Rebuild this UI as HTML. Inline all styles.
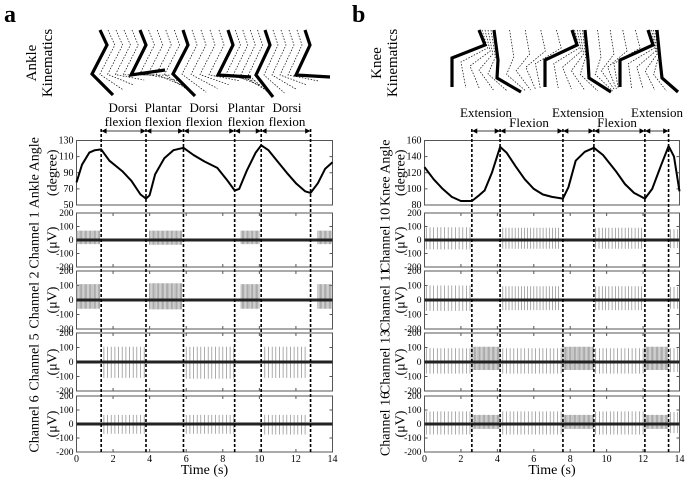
<!DOCTYPE html>
<html><head><meta charset="utf-8">
<style>
html,body{margin:0;padding:0;background:#fff;}
svg{display:block;font-family:"Liberation Serif",serif;}
</style></head>
<body>
<svg id="fig" width="685" height="478" viewBox="0 0 685 478" xmlns="http://www.w3.org/2000/svg">
<text x="4" y="22" font-size="24" font-weight="bold">a</text>
<text x="352" y="22" font-size="24" font-weight="bold">b</text>
<g id="root"></g>
</svg>
<script>
// ---- data ----
const ankleT = [0,0.3,0.7,1.0,1.35,1.8,2.5,3.0,3.5,3.8,4.0,4.3,4.8,5.3,5.85,6.4,7.0,7.7,8.2,8.65,8.9,9.3,9.8,10.1,10.5,11,11.5,12,12.5,12.8,13.2,13.6,14];
const ankleV = [78,100,115,118,119,105,92,80,63,58,62,88,108,118,121,112,104,96,82,68,70,92,115,124,118,104,90,77,67,65,77,95,103];
const kneeT = [0,0.5,1,1.5,2,2.6,3,3.3,3.7,4.15,4.5,5,5.5,6,6.5,7,7.6,7.9,8.3,8.8,9.3,9.8,10.5,11,11.5,12.1,12.5,13,13.4,13.7,14];
const kneeV = [127,112,100,90,85,85,92,98,120,152,145,128,112,100,93,90,88,102,135,146,151,142,122,106,95,88,100,130,153,140,97];
const ankleEvents = [1.35,3.8,5.85,8.65,10.1,12.8];
const kneeEvents = [2.6,4.15,7.6,9.3,12.1,13.4];
const ankleTicks = [50,70,90,110,130];
const kneeTicks = [80,100,120,140,160];
const emgTicks = [200,100,0,-100,-200];
const timeTicks = [0,2,4,6,8,10,12,14];
// bursts: [start, end, up amplitude, down amplitude, spike spacing]
const ch1Bursts = [[0,1.3,70,-30,0.07],[4.0,5.8,70,-35,0.07],[9.0,10.0,70,-30,0.07],[13.2,14,70,-30,0.07]];
const ch2Bursts = [[0,1.3,110,-60,0.07],[4.0,5.8,115,-65,0.07],[9.0,10.0,110,-60,0.07],[13.2,14,110,-60,0.07]];
const ch5Bursts = [[1.5,3.7,105,-110,0.2],[6.0,8.6,105,-115,0.2],[10.3,12.6,105,-110,0.2]];
const ch6Bursts = [[1.5,3.7,65,-70,0.2],[6.0,8.6,65,-70,0.2],[10.3,12.6,65,-75,0.2]];
const ch10Bursts = [[0.1,2.5,95,-70,0.2],[4.3,7.5,90,-65,0.17],[9.4,12.0,90,-65,0.18],[13.5,14,80,-60,0.2]];
const ch11Bursts = [[0.1,2.5,100,-75,0.2],[4.3,7.5,95,-70,0.17],[9.4,12.0,95,-70,0.18],[13.5,14,90,-60,0.2]];
const ch13Bursts = [[0.1,2.5,95,-80,0.2],[2.6,4.15,105,-55,0.07],[4.3,7.5,95,-80,0.2],[7.6,9.3,105,-55,0.07],[9.4,12.0,95,-80,0.2],[12.1,13.4,105,-55,0.07],[13.5,14,95,-70,0.2]];
const ch16Bursts = [[0.1,2.5,90,-75,0.2],[2.6,4.15,65,-35,0.07],[4.3,7.5,90,-75,0.2],[7.6,9.3,65,-35,0.07],[9.4,12.0,90,-75,0.2],[12.1,13.4,65,-35,0.07],[13.5,14,85,-65,0.2]];

const NS="http://www.w3.org/2000/svg";
const root=document.getElementById('root');
function el(tag,attrs,parent,txt){const e=document.createElementNS(NS,tag);for(const k in attrs)e.setAttribute(k,attrs[k]);if(txt!==undefined)e.textContent=txt;(parent||root).appendChild(e);return e;}

function buildSide(cfg){
  const g=el('g',{});
  
  
  const x0=cfg.x0,x1=cfg.x1;
  const X=t=>x0+(t/14)*(x1-x0);
  const o1=cfg.off1,o2=cfg.off2;
  const aTop=140.5,aBot=205;
  const [vmin,vmax]=cfg.range;
  const Ya=v=>aBot-(v-vmin)/(vmax-vmin)*(aBot-aTop);
  const ab=el('rect',{x:x0,y:aTop,width:x1-x0,height:aBot-aTop,fill:'none',stroke:'#555','stroke-width':1},g);
  
  
  cfg.aTicks.forEach(v=>{
    const t=el('text',{x:x0-3,y:Ya(v)+3,'font-size':10,'text-anchor':'end'},g,String(v));
    
    
    el('line',{x1:x0,x2:x0+3,y1:Ya(v),y2:Ya(v),stroke:'#555'},g);
    el('line',{x1:x1,x2:x1-3,y1:Ya(v),y2:Ya(v),stroke:'#555'},g);
  });
  let d='';
  cfg.T.forEach((t,i)=>{d+=(i?'L':'M')+X(t).toFixed(1)+','+Ya(cfg.V[i]).toFixed(1);});
  const ln=el('path',{d:d,fill:'none',stroke:'#000','stroke-width':2,'stroke-linejoin':'round'},g);
  
  
  const cy=(aTop+aBot)/2;
  const at=el('text',{x:0,y:0,'font-size':14,'text-anchor':'middle',transform:`translate(${x0-o1},${cy}) rotate(-90)`},g,cfg.angleTitle);
  
  
  const at2=el('text',{x:0,y:0,'font-size':14,'text-anchor':'middle',transform:`translate(${x0-o2},${cy}) rotate(-90)`},g,'(degree)');
  
  
  const tops=[213,271,333,396], bots=[267,329,391,452];
  cfg.channels.forEach((ch,i)=>{
    const top=tops[i],bot=bots[i];
    const Y=v=>bot-(v+200)/400*(bot-top);
    const fr=el('rect',{x:x0,y:top,width:x1-x0,height:bot-top,fill:'none',stroke:'#555','stroke-width':1},g);
    
    
    emgTicks.forEach(v=>{
      const t=el('text',{x:x0-3,y:Y(v)+3,'font-size':9.5,'text-anchor':'end'},g,String(v));
      
      
      el('line',{x1:x0,x2:x0+3,y1:Y(v),y2:Y(v),stroke:'#555'},g);
      el('line',{x1:x1,x2:x1-3,y1:Y(v),y2:Y(v),stroke:'#555'},g);
    });
    timeTicks.forEach(t=>{el('line',{x1:X(t),x2:X(t),y1:bot,y2:bot-3,stroke:'#555'},g);el('line',{x1:X(t),x2:X(t),y1:top,y2:top+3,stroke:'#555'},g);});
    let sd='';
    ch.bursts.forEach(b=>{
      for(let t=b[0];t<=b[1]+1e-6;t+=b[4]){sd+=`M${X(t).toFixed(1)},${Y(b[2]).toFixed(1)}V${Y(b[3]).toFixed(1)}`;}
    });
    const sp=el('path',{d:sd,stroke:'#888','stroke-width':0.7,fill:'none'},g);
    
    
    const bl=el('line',{x1:x0,x2:x1,y1:Y(0),y2:Y(0),stroke:'#222','stroke-width':3},g);
    
    
    const c=(top+bot)/2;
    const t1=el('text',{x:0,y:0,'font-size':14,'text-anchor':'middle',transform:`translate(${x0-o1},${c}) rotate(-90)`},g,ch.label);
    
    
    const t2=el('text',{x:0,y:0,'font-size':14,'text-anchor':'middle',transform:`translate(${x0-o2},${c}) rotate(-90)`},g,'(μV)');
    
    
  });
  timeTicks.forEach(t=>{
    const tl=el('text',{x:X(t),y:462,'font-size':10,'text-anchor':'middle'},g,String(t));
    
    
  });
  const xt=el('text',{x:(x0+x1)/2,y:474,'font-size':14,'text-anchor':'middle'},g,'Time (s)');
  
  
  cfg.events.forEach(e=>{
    const dl=el('line',{x1:X(e),x2:X(e),y1:129,y2:452,stroke:'#000','stroke-width':1.6,'stroke-dasharray':'3,2'},g);
    
    
  });
  for(let i=0;i<cfg.events.length-1;i++){
    const a=X(cfg.events[i])+1,b=X(cfg.events[i+1])-1,y=131;
    const ar=el('path',{d:`M${a},${y}H${b}M${a},${y}l4,-2v4zM${b},${y}l-4,-2v4z`,stroke:'#000','stroke-width':0.8,fill:'#000'},g);
    
    
  }
  cfg.phaseLabels.forEach(p=>{
    p.lines.forEach((s,k)=>{
      const t=el('text',{x:p.x,y:p.y+k*14,'font-size':13,'text-anchor':'middle'},g,s);
      
      
    });
  });
  cfg.kinTitle.forEach((s,k)=>{
    const t=el('text',{x:0,y:0,'font-size':15,'text-anchor':'middle',transform:`translate(${36+cfg.dx+k*16},63) rotate(-90)`},g,s);
    
    
  });
  const poses=cfg.poses;
  for(let i=0;i<poses.length;i++){
    const p=poses[i];
    const s=el('polyline',{points:p.map(q=>q.join(',')).join(' '),fill:'none',stroke:'#000','stroke-width':3.2,'stroke-linejoin':'miter'},g);
    
    
    if(i<poses.length-1){
      const n=poses[i+1];
      for(let k=1;k<=4;k++){
        const f=k/5;
        const pts=p.map((q,j)=>[q[0]+(n[j][0]-q[0])*f,q[1]+(n[j][1]-q[1])*f]);
        const dpl=el('polyline',{points:pts.map(q=>q[0].toFixed(1)+','+q[1].toFixed(1)).join(' '),fill:'none',stroke:'#000','stroke-width':0.7,'stroke-dasharray':'1.5,1.5'},g);
        
        
      }
    }
  }
}

buildSide({name:'ankle-side',x0:76.5,x1:332.5,off1:38,off2:20,range:[50,130],aTicks:ankleTicks,T:ankleT,V:ankleV,
  angleTitle:'Ankle Angle',events:ankleEvents,dx:0,kinTitle:['Ankle','Kinematics'],
  channels:[{label:'Channel 1',bursts:ch1Bursts},{label:'Channel 2',bursts:ch2Bursts},{label:'Channel 5',bursts:ch5Bursts},{label:'Channel 6',bursts:ch6Bursts}],
  phaseLabels:[{x:123,y:112,lines:['Dorsi','flexion']},{x:163,y:112,lines:['Plantar','flexion']},{x:204,y:112,lines:['Dorsi','flexion']},{x:246,y:112,lines:['Plantar','flexion']},{x:287,y:112,lines:['Dorsi','flexion']}],
  poses:[[[100,30],[107,45],[92,74],[113,95]],[[140,30],[146,45],[131,75],[165,70]],[[183,30],[188,45],[173,74],[195,96]],[[228,30],[233,45],[218,75],[251,77]],[[265,30],[270,45],[256,75],[273,97]],[[305,30],[310,45],[296,75],[330,77]]]
});
buildSide({name:'knee-side',x0:424.5,x1:679.5,off1:35,off2:20,range:[80,160],aTicks:kneeTicks,T:kneeT,V:kneeV,
  angleTitle:'Knee Angle',events:kneeEvents,dx:345,kinTitle:['Knee','Kinematics'],
  channels:[{label:'Channel 10',bursts:ch10Bursts},{label:'Channel 11',bursts:ch11Bursts},{label:'Channel 13',bursts:ch13Bursts},{label:'Channel 16',bursts:ch16Bursts}],
  phaseLabels:[{x:486,y:117,lines:['Extension']},{x:529,y:127,lines:['Flexion']},{x:578,y:117,lines:['Extension']},{x:617,y:127,lines:['Flexion']},{x:657,y:117,lines:['Extension']}],
  poses:[[[479,30],[485,45],[452,58],[452,87]],[[494,30],[498,60],[497,78],[521,92]],[[572,30],[577,45],[545,60],[545,87]],[[585,30],[588,60],[589,78],[611,92]],[[648,30],[653,45],[620,60],[620,87]],[[657,30],[660,60],[662,78],[678,92]]]
});
</script>
</body></html>
